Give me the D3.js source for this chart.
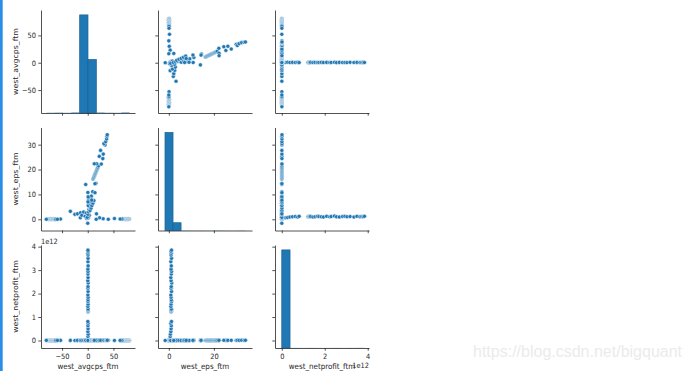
<!DOCTYPE html>
<html>
<head>
<meta charset="utf-8">
<script src="https://cdn.jsdelivr.net/npm/d3@7"></script>
<style>
  body { margin: 0; background: #fff; }
  text { font-family: "DejaVu Sans", sans-serif; fill: #262626; }
</style>
</head>
<body>
<svg id="pairplot"></svg>
<script>
var width = 690;
var height = 371;
var squeeze = 0.913; // the original figure was squeezed horizontally, text too

// variable names, in grid order
var labels = ["west_avgcps_ftm", "west_eps_ftm", "west_netprofit_ftm"];

// scatter sample, one entry per row of the frame (netprofit in units of 1e12)
var avgcps = [
  81.0, 80.1, 79.3, 78.4, 77.6, 76.7, 75.9, 75.0, 74.2, 73.3, 72.5, 71.6, 70.8, 69.9, 69.1, 68.2, 67.4, 66.5,
  63.0, 52.0, 40.0, 30.0, 23.0, 16.5,
  -77.3, -76.4, -75.5, -74.6, -73.7, -72.8, -71.9, -71.0, -70.1, -69.2, -68.3, -67.4, -66.5, -65.6, -64.7, -63.8, -62.9, -62.0, -53.0, -59.0, -80.6,
  0.5, 0.9, 0.3, 0.6, 0.4, 0.7, 0.2, 0.5, 0.6, 0.4, 0.5, 0.7, 0.3, 0.6, 0.4, 0.5, 0.7, 0.3, 0.6, 0.4, 0.5, 0.8, 0.2, 0.6, 0.4, 0.5, 0.3, 0.7, 0.4, 0.6, 0.5, 0.3, 0.6, 0.4,
  -33.8, -25.0, -20.0, -14.0, -14.5, -11.6, -8.0, -5.0, -3.0, -2.0, 0.0, 1.0, 2.0, 3.0, -1.0, 0.5, 1.5, 2.5, 3.5, 1.0, 4.0, 5.5, 2.0, 6.0, 7.0, 4.5, 6.5, 8.0, 10.0, 12.0, 17.0, -4.0, 0.5, 0.8, 0.3,
  7.7, 9.7, 14.1, 16.0, 14.0, 10.4, 11.2, 12.0, 12.8, 13.6, 14.4, 15.2, 16.0, 16.8, 17.6, 18.4, 19.2, 20.0, 21.0, 17.4, 12.8, 26.4, 22.5, 29.3, 30.2, 25.0, 33.7, 31.5, 35.0, 36.8, 37.4, 38.0
];
var eps = [
  0.1, 0.0, 0.2, 0.1, -0.1, 0.0, 0.2, 0.1, 0.0, 0.1, -0.1, 0.2, 0.0, 0.1, 0.1, 0.0, 0.2, 0.1,
  0.1, 0.3, 0.0, 0.2, 0.6, 0.0,
  0.0, 0.1, -0.1, 0.1, 0.0, 0.2, 0.0, 0.1, -0.1, 0.0, 0.1, 0.2, 0.0, 0.1, 0.0, -0.1, 0.1, 0.0, 0.1, 0.0, 0.0,
  0.6, 0.7, 0.9, 1.0, 1.1, 0.9, 1.2, 1.0, 1.1, 1.0, 1.2, 1.1, 0.9, 1.0, 1.2, 1.1, 1.0, 0.9, 1.2, 1.0, 1.1, 1.3, 1.0, 0.9, 1.1, 1.2, 1.0, 1.1, 0.9, 1.2, 1.0, 1.1, 1.0, 1.2,
  3.2, 2.0, 2.2, 2.6, 0.6, 1.6, 2.9, 1.2, 2.5, 0.3, -1.6, 0.5, 1.0, 1.6, 0.8, 2.0, 3.0, 4.0, 5.0, 5.5, 6.5, 7.2, 8.0, 8.5, 9.3, 3.5, 4.5, 5.5, 6.5, 7.5, 2.2, 14.0, 7.0, 9.0, 10.8,
  7.7, 11.1, 10.7, 14.5, 14.3, 16.2, 16.6, 17.0, 17.4, 17.8, 18.2, 18.6, 19.0, 19.4, 19.8, 20.2, 20.6, 21.0, 21.5, 22.3, 22.3, 22.2, 25.3, 24.4, 26.2, 27.7, 29.9, 30.4, 31.2, 32.3, 33.4, 34.0
];
var netprofit = [
  0.002, 0.001, 0.003, 0.002, 0.001, 0.004, 0.002, 0.003, 0.001, 0.002, 0.003, 0.001, 0.002, 0.004, 0.002, 0.001, 0.003, 0.002,
  0.004, 0.002, 0.006, 0.003, 0.005, 0.002,
  0.002, 0.001, 0.003, 0.002, 0.001, 0.002, 0.003, 0.001, 0.002, 0.004, 0.002, 0.001, 0.003, 0.002, 0.001, 0.002, 0.003, 0.002, 0.004, 0.003, 0.005,
  0.16, 0.27, 0.38, 0.50, 0.63, 0.74, 0.81, 1.22, 1.25, 1.28, 1.31, 1.34, 1.45, 1.55, 1.66, 1.73, 1.84, 1.94, 2.09, 2.23, 2.30, 2.45, 2.55, 2.68, 2.83, 2.94, 3.04, 3.18, 3.36, 3.50, 3.64, 3.72, 3.79, 3.85,
  0.003, 0.002, 0.004, 0.001, 0.003, 0.002, 0.005, 0.003, 0.002, 0.004, 0.001, 0.003, 0.002, 0.006, 0.002, 0.004, 0.003, 0.002, 0.005, 0.003, 0.002, 0.004, 0.003, 0.002, 0.001, 0.003, 0.005, 0.002, 0.004, 0.003, 0.002, 0.003, 0.004, 0.002, 0.003,
  0.004, 0.003, 0.006, 0.005, 0.004, 0.002, 0.003, 0.002, 0.004, 0.003, 0.002, 0.003, 0.004, 0.002, 0.003, 0.005, 0.002, 0.003, 0.004, 0.006, 0.005, 0.007, 0.004, 0.008, 0.006, 0.005, 0.007, 0.009, 0.006, 0.008, 0.007, 0.009
];

// diagonal histograms: 10 bins each, counts and the data range they span
var avgcpsHist = [4, 6, 3, 9, 1850, 1010, 8, 4, 3, 9];
var epsHist = [2650, 210, 6, 4, 5, 3, 6, 4, 3, 5];
var netprofitHist = [2870, 3, 2, 3, 2, 2, 3, 2, 3, 4];
var histRange = [[-80.6, 81.6], [-1.7, 34.0], [0, 3.85]];

// tick values
var avgcpsTicks = [-50, 0, 50];
var epsTicksX = [0, 20];
var epsTicksY = [0, 10, 20, 30];
var netprofitTicksX = [0, 2, 4];
var netprofitTicksY = [0, 1, 2, 3, 4];

var series = [avgcps, eps, netprofit];
var hists = [avgcpsHist, epsHist, netprofitHist];
var xTicks = [avgcpsTicks, epsTicksX, netprofitTicksX];
var yTicks = [avgcpsTicks, epsTicksY, netprofitTicksY];

///////////////////////////////////////////////////////////////////////////
// grid layout
var colX = [41, 158, 275], cellW = 94;
var rowY = [10, 127.5, 245], cellH = 103;
var xDomains = [[-91, 92], [-4.8, 36.9], [-0.315, 4.06]];
var yDomains = [[-92, 96.5], [-4.5, 36.9], [-0.32, 4.07]];

var xs = xDomains.map((d, j) => d3.scaleLinear().domain(d).range([colX[j], colX[j] + cellW]));
var ys = yDomains.map((d, i) => d3.scaleLinear().domain(d).range([rowY[i] + cellH, rowY[i]]));

var fmt = d => d < 0 ? "\u2212" + Math.abs(d) : String(d);

var svg = d3.select("#pairplot")
  .attr("width", width)
  .attr("height", height)
  .attr("viewBox", [0, 0, width, height]);

svg.append("rect").attr("width", width).attr("height", height).attr("fill", "#fff");

// notebook cell marker on the left edge
svg.append("rect")
  .attr("x", 0).attr("y", 0)
  .attr("width", 2.7).attr("height", height)
  .attr("fill", "#2a8de6");

///////////////////////////////////////////////////////////////////////////
// cells
var idx = d3.range(avgcps.length);

for (var i = 0; i < 3; i++) {
  for (var j = 0; j < 3; j++) {
    var g = svg.append("g");
    var x = xs[j], y = ys[i];

    if (i === j) {
      // histogram on its own hidden count axis
      var counts = hists[i];
      var lo = histRange[i][0], hi = histRange[i][1], n = counts.length;
      var edge = b => lo + b * (hi - lo) / n;
      var yh = d3.scaleLinear()
        .domain([0, d3.max(counts) * 1.05])
        .range([rowY[i] + cellH, rowY[i]]);
      g.selectAll("rect")
        .data(counts)
        .join("rect")
          .attr("x", (c, b) => x(edge(b)))
          .attr("width", (c, b) => x(edge(b + 1)) - x(edge(b)))
          .attr("y", c => yh(c))
          .attr("height", c => yh(0) - yh(c))
          .attr("fill", "#1f77b4")
          // near-empty bins vanish into the spine, so no outline there
          .attr("stroke", c => (yh(0) - yh(c)) < 1 ? "none" : "#19649a")
          .attr("stroke-width", 0.7);
    } else {
      var xv = series[j], yv = series[i];
      g.selectAll("circle")
        .data(idx)
        .join("circle")
          .attr("cx", k => x(xv[k]))
          .attr("cy", k => y(yv[k]))
          .attr("r", 2.05)
          .attr("fill", "#1f77b4")
          .attr("stroke", "#fff")
          .attr("stroke-width", 0.5);
    }

    // left spine + ticks
    var yAxis = g.append("g")
      .attr("transform", "translate(" + colX[j] + ",0)")
      .call(d3.axisLeft(y)
        .tickValues(yTicks[i])
        .tickSize(2.7)
        .tickPadding(2.7)
        .tickSizeOuter(0)
        .tickFormat(j === 0 ? fmt : ""));

    // bottom spine + ticks
    var xAxis = g.append("g")
      .attr("transform", "translate(0," + (rowY[i] + cellH) + ")")
      .call(d3.axisBottom(x)
        .tickValues(xTicks[j])
        .tickSize(2.7)
        .tickPadding(2.7)
        .tickSizeOuter(0)
        .tickFormat(i === 2 ? fmt : ""));

    [yAxis, xAxis].forEach(a => {
      a.select(".domain").attr("stroke", "#262626").attr("stroke-width", 0.8);
      a.selectAll(".tick line").attr("stroke", "#262626").attr("stroke-width", 0.8);
      a.selectAll("text")
        .style("font-size", "7.3px")
        .attr("fill", "#262626")
        .attr("transform", "scale(" + squeeze + ",1)");
    });
  }
}

///////////////////////////////////////////////////////////////////////////
// axis labels
labels.forEach((lab, i) => {
  svg.append("text")
    .attr("transform", "translate(17.5," + (rowY[i] + cellH / 2) + ") scale(" + squeeze + ",1) rotate(-90)")
    .attr("text-anchor", "middle")
    .style("font-size", "7.8px")
    .text(lab);

  svg.append("text")
    .attr("transform", "translate(" + (colX[i] + cellW / 2) + ",368.5) scale(" + squeeze + ",1)")
    .attr("text-anchor", "middle")
    .style("font-size", "7.8px")
    .text(lab);
});

// scientific offset texts for netprofit
svg.append("text")
  .attr("transform", "translate(" + colX[0] + "," + (rowY[2] - 1.5) + ") scale(" + squeeze + ",1)")
  .style("font-size", "7.3px")
  .text("1e12");

svg.append("text")
  .attr("transform", "translate(" + (colX[2] + cellW) + ",368) scale(" + squeeze + ",1)")
  .attr("text-anchor", "end")
  .style("font-size", "7.3px")
  .text("1e12");

// watermark
svg.append("text")
  .attr("x", 473)
  .attr("y", 356.5)
  .style("font-family", "'Liberation Sans', Arial, sans-serif")
  .style("font-size", "16px")
  .style("fill", "#ebebeb")
  .text("https://blog.csdn.net/bigquant");
</script>
</body>
</html>
